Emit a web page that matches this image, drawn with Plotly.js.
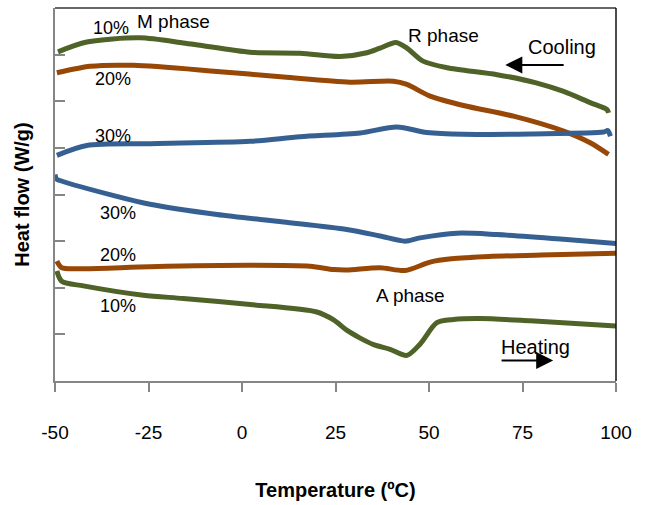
<!DOCTYPE html>
<html>
<head>
<meta charset="utf-8">
<script src="https://cdn.plot.ly/plotly-3.0.1.min.js"></script>
<style>html,body{margin:0;padding:0;background:#fff;}#chart{width:647px;height:505px;}</style>
</head>
<body>
<div id="chart"></div>
<script>
// Temperature (ºC) and heat flow (arbitrary units)
var coolT10 = [-49.2, -41.5, -27.3, -15.7, -11.2, 2.2, 15.5, 26.2, 33.4, 36.9, 41.2, 44.1, 48.4, 54.8, 68.2, 78.9, 86.0, 93.1, 97.6, 98.0];
var coolH10 = [7.06, 7.27, 7.36, 7.25, 7.20, 7.05, 7.03, 6.96, 7.04, 7.14, 7.26, 7.14, 6.86, 6.72, 6.57, 6.39, 6.21, 5.97, 5.82, 5.75];

var coolT20 = [-49.5, -40.6, -29.0, -6.7, 11.1, 28.9, 40.5, 44.1, 50.3, 59.2, 72.6, 86.0, 93.1, 98.0];
var coolH20 = [6.61, 6.75, 6.77, 6.64, 6.52, 6.41, 6.43, 6.36, 6.11, 5.91, 5.68, 5.36, 5.11, 4.86];

var coolT30 = [-49.5, -41.5, -24.6, 2.2, 15.5, 31.6, 41.4, 49.4, 59.2, 77.1, 96.7, 97.8, 98.5];
var coolH30 = [4.84, 5.05, 5.09, 5.14, 5.24, 5.32, 5.45, 5.33, 5.29, 5.30, 5.34, 5.37, 5.25];

var heatT30 = [-50, -49.6, -48.7, -33.5, -24.6, -6.7, 11.1, 28.0, 36.9, 43.6, 47.6, 57.5, 68.2, 86.0, 100];
var heatH30 = [4.43, 4.33, 4.30, 3.96, 3.79, 3.57, 3.41, 3.25, 3.11, 3.00, 3.07, 3.17, 3.14, 3.04, 2.95];

var heatT20 = [-49.5, -48.2, -42.4, -24.6, 2.2, 18.2, 24.5, 28.0, 36.9, 43.6, 50.3, 56.0, 66.0, 80.0, 100];
var heatH20 = [2.57, 2.43, 2.41, 2.45, 2.48, 2.46, 2.39, 2.38, 2.43, 2.37, 2.55, 2.62, 2.67, 2.70, 2.74];

var heatT10 = [-49.5, -48.2, -42.4, -26.4, -15.7, 2.2, 20.0, 24.5, 28.0, 31.6, 35.2, 39.6, 44.1, 47.6, 52.1, 56.5, 63.7, 77.1, 100];
var heatH10 = [2.36, 2.14, 2.04, 1.84, 1.77, 1.64, 1.48, 1.31, 1.09, 0.92, 0.78, 0.68, 0.55, 0.79, 1.25, 1.32, 1.34, 1.29, 1.18];

var xTicks = [-50, -25, 0, 25, 50, 75, 100];
var xTickText = ['-50', '-25', '0', '25', '50', '75', '100'];

var GREEN = '#4F6228', ORANGE = '#974806', BLUE = '#376092';
var FONT = 'Liberation Sans, Arial, sans-serif';

function tr(x, y, c) {
  return {x: x, y: y, type: 'scatter', mode: 'lines',
    line: {color: c, width: 5, shape: 'spline', smoothing: 0.8}, hoverinfo: 'skip', showlegend: false};
}

var data = [
  tr(coolT10, coolH10, GREEN), tr(coolT20, coolH20, ORANGE), tr(coolT30, coolH30, BLUE),
  tr(heatT30, heatH30, BLUE), tr(heatT20, heatH20, ORANGE), tr(heatT10, heatH10, GREEN)
];

function lab(t, x, y, s) {
  return {text: t, x: x, y: y, xref: 'x', yref: 'y', showarrow: false,
    font: {family: FONT, size: s, color: '#000'}, xanchor: 'center', yanchor: 'middle'};
}

var annotations = [
  lab('10%', -35.0, 7.58, 18), lab('M phase', -18.2, 7.71, 19),
  lab('20%', -34.6, 6.47, 18), lab('30%', -34.6, 5.25, 18),
  lab('R phase', 53.8, 7.41, 19), lab('Cooling', 85.5, 7.16, 20),
  lab('30%', -33.2, 3.61, 18), lab('20%', -33.2, 2.70, 18), lab('10%', -33.1, 1.61, 18),
  lab('A phase', 45.0, 1.84, 19), lab('Heating', 78.6, 0.74, 20),
  {x: 70.4, y: 6.78, ax: 86.4, ay: 6.78, xref: 'x', yref: 'y', axref: 'x', ayref: 'y', text: '',
    showarrow: true, arrowhead: 2, arrowsize: 1.7, arrowwidth: 2, arrowcolor: '#000'},
  {x: 83.2, y: 0.44, ax: 69.0, ay: 0.44, xref: 'x', yref: 'y', axref: 'x', ayref: 'y', text: '',
    showarrow: true, arrowhead: 2, arrowsize: 1.7, arrowwidth: 2, arrowcolor: '#000'}
];

var layout = {
  width: 647, height: 505,
  margin: {l: 55, r: 31, t: 8, b: 124},
  paper_bgcolor: '#fff', plot_bgcolor: '#fff',
  showlegend: false,
  font: {family: FONT, color: '#000'},
  xaxis: {
    range: [-50, 100], tickvals: xTicks, ticktext: xTickText,
    ticks: 'outside', ticklen: 9, tickwidth: 2, tickcolor: '#868686',
    showline: true, linecolor: '#868686', linewidth: 2,
    showgrid: false, zeroline: false,
    tickfont: {family: FONT, size: 19, color: '#000'},
    ticklabelstandoff: 24,
    title: {text: '<b>Temperature (ºC)</b>', font: {family: FONT, size: 20, color: '#000'}, standoff: 41}
  },
  yaxis: {
    range: [0, 8], dtick: 1, tick0: 0,
    ticks: 'inside', ticklen: 10, tickwidth: 2, tickcolor: '#868686',
    showticklabels: false,
    showline: true, linecolor: '#868686', linewidth: 2,
    showgrid: false, zeroline: false,
    title: {text: '<b>Heat flow (W/g)</b>', font: {family: FONT, size: 20, color: '#000'}, standoff: 18}
  },
  shapes: [
    {type: 'line', xref: 'paper', yref: 'paper', x0: 0, x1: 1, y0: 1, y1: 1, line: {color: '#333', width: 1.5}},
    {type: 'line', xref: 'paper', yref: 'paper', x0: 1, x1: 1, y0: 0, y1: 1, line: {color: '#111', width: 1.5}}
  ],
  annotations: annotations
};

Plotly.newPlot('chart', data, layout, {displayModeBar: false, staticPlot: true});
</script>
</body>
</html>
